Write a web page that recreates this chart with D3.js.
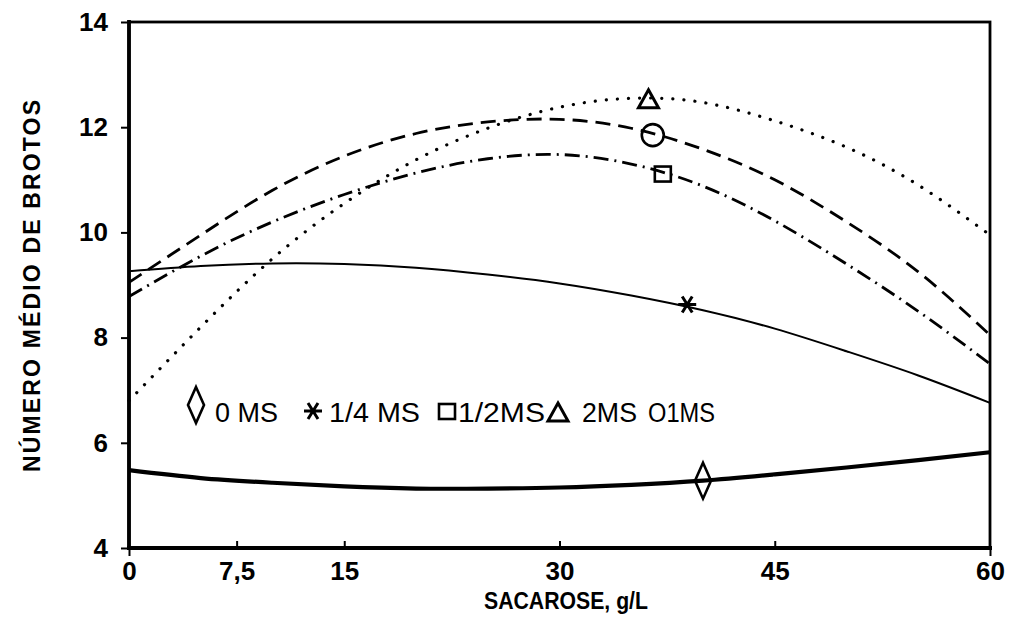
<!DOCTYPE html>
<html>
<head>
<meta charset="utf-8">
<script src="https://cdn.jsdelivr.net/npm/d3@7"></script>
<style>
  body { margin: 0; background: #fff; }
  svg { display: block; }
  .tick-label { font-family: "Liberation Sans", Arial, sans-serif; font-weight: bold; font-size: 26px; fill: #000; }
  .axis-title { font-family: "Liberation Sans", Arial, sans-serif; font-weight: bold; font-size: 23px; fill: #000; }
  .legend { font-family: "Liberation Sans", Arial, sans-serif; font-size: 27px; fill: #000; }
</style>
</head>
<body>
<svg width="1015" height="632"></svg>
<script>
// sucrose levels, g/L
var sacarose = [0, 5, 10, 15, 20, 25, 30, 35, 40, 45, 50, 55, 60];

// mean number of shoots
var ms0   = [5.48, 5.33, 5.24, 5.17, 5.13, 5.13, 5.15, 5.20, 5.28, 5.40, 5.53, 5.67, 5.82];
var ms14  = [9.26, 9.36, 9.41, 9.40, 9.33, 9.20, 9.03, 8.80, 8.52, 8.17, 7.74, 7.28, 6.76];
var ms12  = [8.78, 9.55, 10.20, 10.72, 11.13, 11.40, 11.48, 11.30, 10.88, 10.22, 9.40, 8.50, 7.50];
var ms2   = [6.80, 8.20, 9.50, 10.55, 11.38, 11.98, 12.38, 12.55, 12.47, 12.12, 11.62, 10.90, 9.95];
var ms1   = [9.05, 9.95, 10.80, 11.45, 11.88, 12.10, 12.15, 11.98, 11.58, 11.00, 10.20, 9.25, 8.05];

// marker positions
var markers = [
  { serie: "2MS", shape: "triangle", x: 36.2, y: 12.52 },
  { serie: "1MS", shape: "circle", x: 36.5, y: 11.85 },
  { serie: "1/2MS", shape: "square", x: 37.2, y: 11.10 },
  { serie: "1/4MS", shape: "asterisk", x: 38.9, y: 8.63 },
  { serie: "0MS", shape: "diamond", x: 40.0, y: 5.28 }
];

var xTicks = [0, 7.5, 15, 30, 45, 60];
var yTicks = [4, 6, 8, 10, 12, 14];

var margin = { top: 22, right: 25, bottom: 84, left: 129 };
var svg = d3.select("svg");
var width = +svg.attr("width") - margin.left - margin.right;
var height = +svg.attr("height") - margin.top - margin.bottom;
var g = svg.append("g").attr("transform", "translate(" + margin.left + "," + margin.top + ")");

var x = d3.scaleLinear().domain([0, 60]).range([0, width]);
var y = d3.scaleLinear().domain([4, 14]).range([height, 0]);

// curves
var line = d3.line()
  .x(function (d) { return x(d[0]); })
  .y(function (d) { return y(d[1]); })
  .curve(d3.curveNatural);

function pts(vals) { return sacarose.map(function (s, i) { return [s, vals[i]]; }); }

var series = [
  { vals: ms0, width: 4.2, dash: null, cap: "butt" },
  { vals: ms14, width: 2, dash: null, cap: "butt" },
  { vals: ms12, width: 2.8, dash: "15,6,2,6", cap: "butt" },
  { vals: ms1, width: 2.8, dash: "15,8", cap: "butt" },
  { vals: ms2, width: 3.2, dash: "0.1,11", cap: "round" }
];

g.selectAll(".serie")
  .data(series)
  .enter().append("path")
  .attr("class", "serie")
  .attr("d", function (d) { return line(pts(d.vals)); })
  .attr("fill", "none")
  .attr("stroke", "#000")
  .attr("stroke-width", function (d) { return d.width; })
  .attr("stroke-linecap", function (d) { return d.cap; })
  .attr("stroke-dasharray", function (d) { return d.dash; });

// frame
g.append("rect")
  .attr("x", 0).attr("y", 0)
  .attr("width", width).attr("height", height)
  .attr("fill", "none").attr("stroke", "#000").attr("stroke-width", 2.8);
g.append("line").attr("x1", 0).attr("x2", 0).attr("y1", -2).attr("y2", height + 2)
  .attr("stroke", "#000").attr("stroke-width", 3.8);
g.append("line").attr("x1", -2).attr("x2", width + 2).attr("y1", height).attr("y2", height)
  .attr("stroke", "#000").attr("stroke-width", 3.8);

// axes
var xAxis = g.append("g")
  .attr("transform", "translate(0," + height + ")")
  .call(d3.axisBottom(x).tickValues(xTicks).tickSizeInner(-7).tickSizeOuter(0)
    .tickFormat(function (d) { return String(d).replace(".", ","); }));
xAxis.attr("font-size", null).attr("font-family", null);
xAxis.select(".domain").remove();
xAxis.selectAll(".tick line").attr("stroke-width", 2)
  .attr("y2", function (d) { return (d === 0 || d === 60) ? 8 : -7; });
xAxis.selectAll(".tick text").attr("class", "tick-label").attr("y", 14).attr("dy", "0.71em");

var yAxis = g.append("g")
  .call(d3.axisLeft(y).tickValues(yTicks).tickSizeInner(8).tickSizeOuter(0));
yAxis.attr("font-size", null).attr("font-family", null);
yAxis.select(".domain").remove();
yAxis.selectAll(".tick line").attr("stroke-width", 2);
yAxis.selectAll(".tick text").attr("class", "tick-label").attr("x", -21);

// axis titles
svg.append("text").attr("class", "axis-title")
  .attr("x", 484).attr("y", 609)
  .attr("textLength", 164).attr("lengthAdjust", "spacingAndGlyphs")
  .text("SACAROSE,  g/L");
svg.append("text").attr("class", "axis-title")
  .attr("transform", "translate(40,472) rotate(-90)")
  .attr("textLength", 372).attr("lengthAdjust", "spacing")
  .text("NÚMERO  MÉDIO  DE  BROTOS");

// symbols
function drawSymbol(sel, shape, cx, cy) {
  var s = sel.append("g").attr("transform", "translate(" + cx + "," + cy + ")")
    .attr("fill", "none").attr("stroke", "#000").attr("stroke-width", 2.6);
  if (shape === "triangle") s.append("path").attr("d", "M0,-10L10,8L-10,8Z").attr("stroke-width", 3);
  if (shape === "circle") s.append("circle").attr("r", 11);
  if (shape === "square") s.append("rect").attr("x", -8).attr("y", -8).attr("width", 16).attr("height", 15);
  if (shape === "diamond") s.append("path").attr("d", "M0,-18L8,0L0,18L-8,0Z");
  if (shape === "asterisk") {
    s.attr("stroke-width", 3);
    s.append("path").attr("d", "M-9,0H9M-5,-8L5,8M5,-8L-5,8");
  }
  return s;
}

markers.forEach(function (m) { drawSymbol(g, m.shape, x(m.x), y(m.y)); });

// legend
var legendItems = [
  { shape: "diamond", label: "0 MS", sx: 196, sy: 405, tx: 215, w: 63 },
  { shape: "asterisk", label: "1/4 MS", sx: 313, sy: 411, tx: 329, w: 91 },
  { shape: "square", label: "1/2MS", sx: 447, sy: 412, tx: 458, w: 87 },
  { shape: "triangle", label: "2MS", sx: 558, sy: 413, tx: 582, w: 55 },
  { shape: null, label: "O1MS", sx: 0, sy: 0, tx: 648, w: 67 }
];
var lg = svg.append("g");
legendItems.forEach(function (d) {
  if (d.shape) drawSymbol(lg, d.shape, d.sx, d.sy);
  lg.append("text").attr("class", "legend")
    .attr("x", d.tx).attr("y", 422)
    .attr("textLength", d.w).attr("lengthAdjust", "spacingAndGlyphs")
    .text(d.label);
});
</script>
</body>
</html>
